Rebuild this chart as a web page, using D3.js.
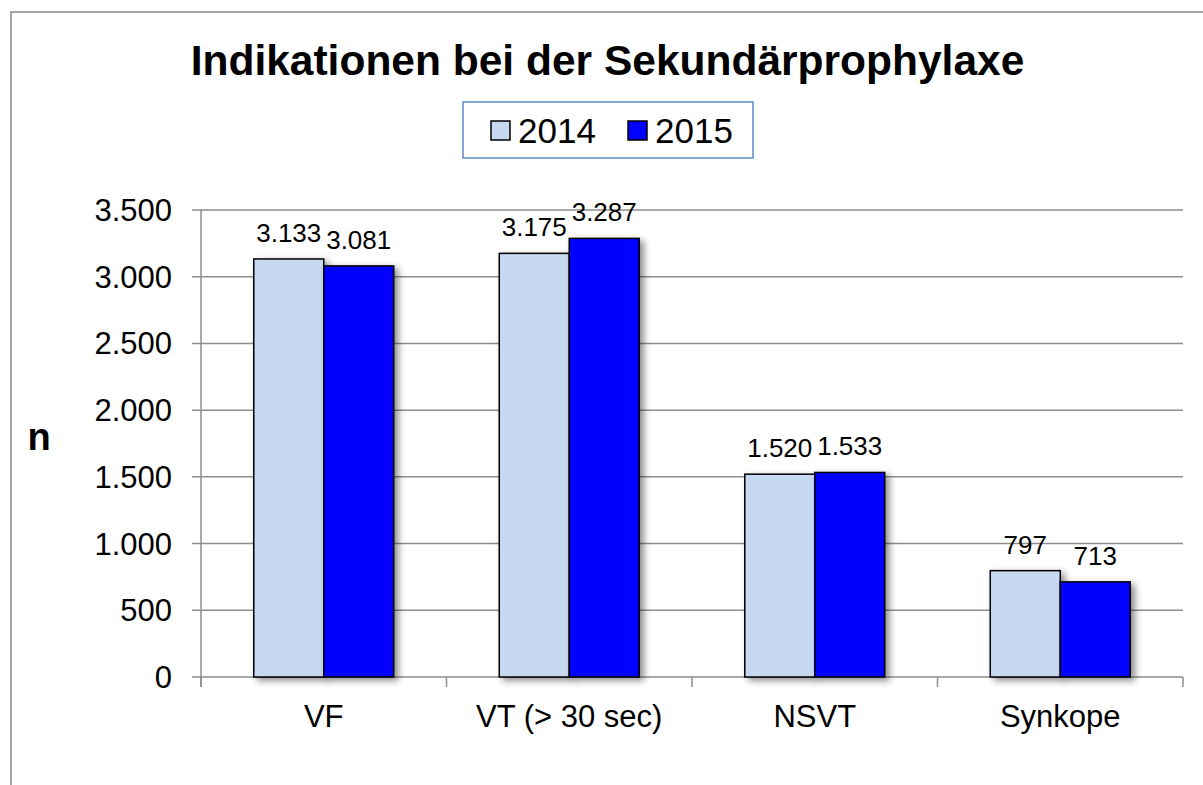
<!DOCTYPE html>
<html>
<head>
<meta charset="utf-8">
<script src="https://cdn.jsdelivr.net/npm/d3@7"></script>
<style>
  html, body { margin: 0; padding: 0; background: #fff; }
  svg { display: block; font-family: "Liberation Sans", Arial, sans-serif; }
</style>
</head>
<body>
<svg id="chart" width="1203" height="785"></svg>
<script>
const categories = ["VF", "VT (> 30 sec)", "NSVT", "Synkope"];
const seriesNames = ["2014", "2015"];
const values2014 = [3133, 3175, 1520, 797];
const values2015 = [3081, 3287, 1533, 713];
const yTicks = [0, 500, 1000, 1500, 2000, 2500, 3000, 3500];
const colors = ["#c6d9f1", "#0000ff"];

const fmt = v => d3.format(",")(v).replace(/,/g, ".");

const svg = d3.select("#chart");
svg.append("rect").attr("width", 1203).attr("height", 785).attr("fill", "#fff");

const defs = svg.append("defs");
const f = defs.append("filter").attr("id", "shadow")
  .attr("x", "-20%").attr("y", "-20%").attr("width", "150%").attr("height", "150%");
f.append("feDropShadow").attr("dx", 4).attr("dy", 3).attr("stdDeviation", 3.5)
  .attr("flood-color", "#000").attr("flood-opacity", 0.45);

// outer chart border
svg.append("rect").attr("x", 11).attr("y", 12).attr("width", 1220).attr("height", 800)
  .attr("fill", "none").attr("stroke", "#888").attr("stroke-width", 1.5);

const x0 = 201, x1 = 1183;
const x = d3.scaleBand().domain(categories).range([x0, x1]).paddingInner(0).paddingOuter(0);
const xs = d3.scaleBand().domain(seriesNames).range([0, x.bandwidth()]).paddingInner(0).paddingOuter(0.754);
const y = d3.scaleLinear().domain([0, 3500]).range([677, 210]);

// gridlines + left ticks
svg.append("g").selectAll("line").data(yTicks).join("line")
  .attr("x1", 192).attr("x2", x1)
  .attr("y1", d => y(d)).attr("y2", d => y(d))
  .attr("stroke", "#8e8e8e").attr("stroke-width", 1.5);

// y axis line
svg.append("line").attr("x1", x0).attr("x2", x0).attr("y1", y(3500)).attr("y2", 687)
  .attr("stroke", "#8e8e8e").attr("stroke-width", 1.5);

// x axis ticks at category boundaries
const bounds = categories.map(c => x(c)).concat([x1]);
svg.append("g").selectAll("line").data(bounds).join("line")
  .attr("x1", d => d).attr("x2", d => d).attr("y1", y(0)).attr("y2", 687)
  .attr("stroke", "#8e8e8e").attr("stroke-width", 1.5);

// y tick labels
svg.append("g").selectAll("text").data(yTicks).join("text")
  .attr("x", 172).attr("y", d => y(d) + 11)
  .attr("text-anchor", "end").attr("font-size", 31).attr("fill", "#000")
  .text(d => fmt(d));

// bars
const rows = categories.map((c, i) => ({ cat: c, vals: [values2014[i], values2015[i]] }));
const groups = svg.append("g").selectAll("g").data(rows).join("g")
  .attr("transform", d => `translate(${x(d.cat)},0)`);

groups.selectAll("rect").data(d => d.vals.map((v, j) => ({ s: seriesNames[j], v, j }))).join("rect")
  .attr("x", d => xs(d.s)).attr("width", xs.bandwidth())
  .attr("y", d => y(d.v)).attr("height", d => y(0) - y(d.v))
  .attr("fill", d => colors[d.j]).attr("stroke", "#000").attr("stroke-width", 1.5)
  .attr("filter", "url(#shadow)");

groups.selectAll("text").data(d => d.vals.map((v, j) => ({ s: seriesNames[j], v, j }))).join("text")
  .attr("x", d => xs(d.s) + xs.bandwidth() / 2).attr("y", d => y(d.v) - 17)
  .attr("text-anchor", "middle").attr("font-size", 26).attr("fill", "#000")
  .text(d => fmt(d.v));

// category labels
svg.append("g").selectAll("text").data(categories).join("text")
  .attr("x", d => x(d) + x.bandwidth() / 2).attr("y", 727)
  .attr("text-anchor", "middle").attr("font-size", 31).attr("fill", "#000")
  .text(d => d);

// axis title
svg.append("text").attr("x", 39).attr("y", 450).attr("text-anchor", "middle")
  .attr("font-size", 38).attr("font-weight", "bold").text("n");

// title
svg.append("text").attr("x", 607.5).attr("y", 75).attr("text-anchor", "middle")
  .attr("font-size", 42.5).attr("font-weight", "bold")
  .text("Indikationen bei der Sekundärprophylaxe");

// legend
const lg = svg.append("g");
lg.append("rect").attr("x", 463).attr("y", 102).attr("width", 290).attr("height", 56)
  .attr("fill", "#fff").attr("stroke", "#5f8bc8").attr("stroke-width", 1.5);
const legX = [491, 628];
lg.selectAll("rect.sw").data(seriesNames).join("rect").attr("class", "sw")
  .attr("x", (d, i) => legX[i]).attr("y", 121).attr("width", 19).attr("height", 19)
  .attr("fill", (d, i) => colors[i]).attr("stroke", "#000").attr("stroke-width", 1.5);
lg.selectAll("text").data(seriesNames).join("text")
  .attr("x", (d, i) => legX[i] + 27).attr("y", 143)
  .attr("font-size", 35).attr("fill", "#000").text(d => d);
</script>
</body>
</html>
